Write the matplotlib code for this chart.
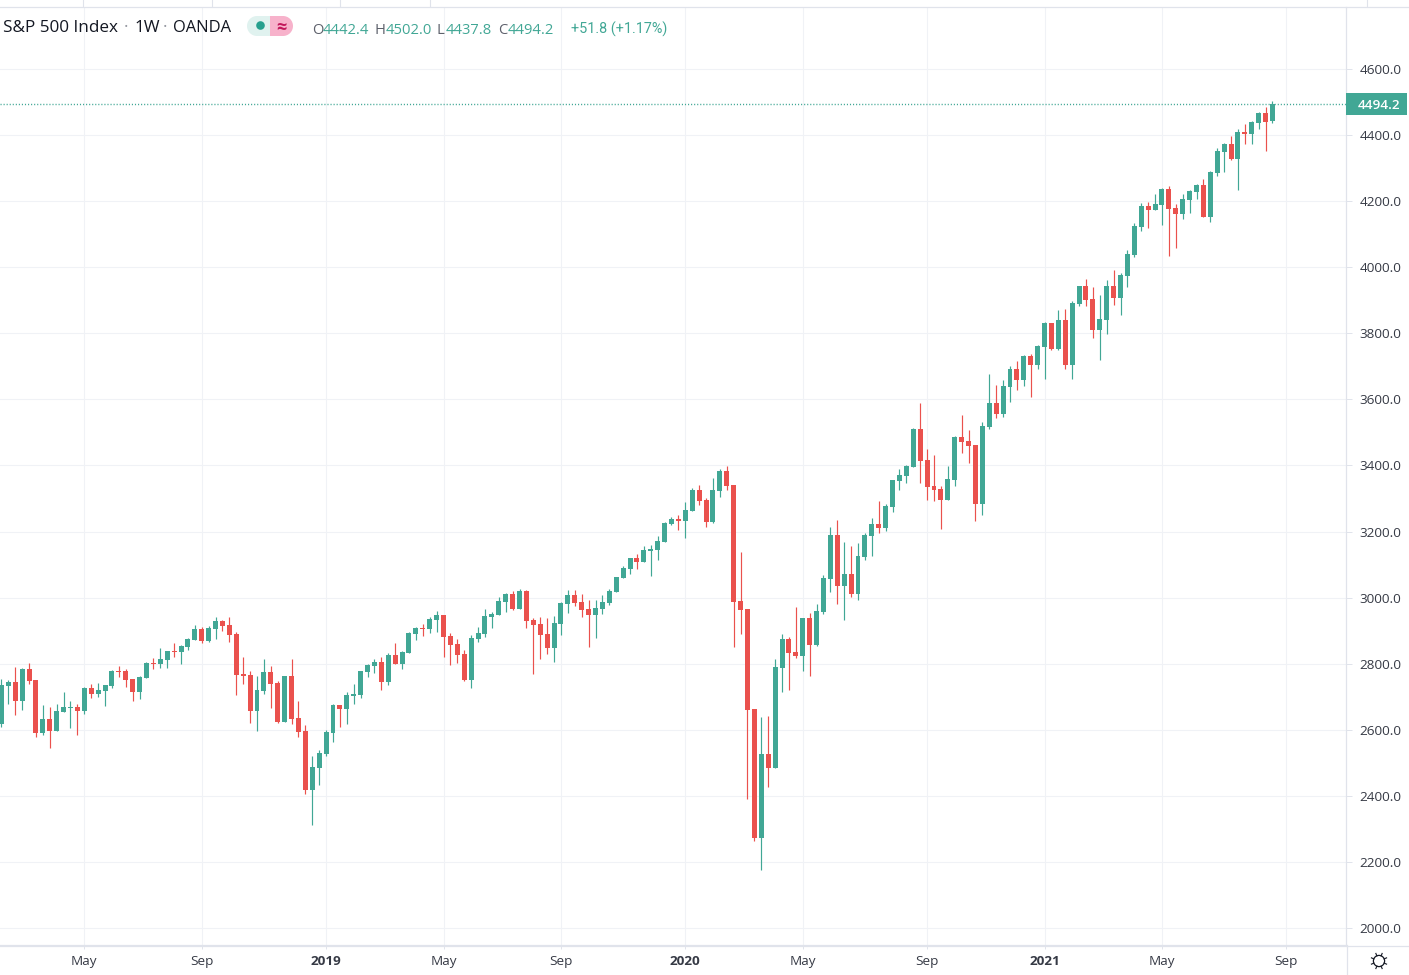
import numpy as np
import matplotlib
matplotlib.use("Agg")
import matplotlib.pyplot as plt
from matplotlib.patches import Circle, Rectangle

plt.rcParams["font.family"] = ["Open Sans", "DejaVu Sans"]

# weekly candles, oldest first
opens = [
    2618, 2733, 2745, 2687, 2784, 2751, 2590, 2633, 2597, 2654,
    2666, 2669, 2657, 2727, 2709, 2718, 2733, 2778, 2778, 2754,
    2715, 2757, 2802, 2799, 2811, 2839, 2836, 2851, 2872, 2905,
    2869, 2905, 2929, 2917, 2890, 2769, 2766, 2657, 2718, 2775,
    2742, 2624, 2763, 2636, 2597, 2418, 2485, 2527, 2590, 2675,
    2663, 2702, 2705, 2775, 2793, 2805, 2745, 2827, 2799, 2833,
    2890, 2908, 2905, 2932, 2948, 2884, 2860, 2830, 2751, 2875,
    2890, 2941, 2948, 2987, 3011, 2966, 3020, 2932, 2920, 2890,
    2848, 2920, 2981, 3008, 2987, 2966, 2948, 2966, 2984, 3017,
    3060, 3087, 3120, 3108, 3141, 3144, 3168, 3223, 3238, 3232,
    3262, 3326, 3296, 3229, 3323, 3383, 3341, 2990, 2966, 2663,
    2273, 2527, 2485, 2787, 2875, 2836, 2823, 2938, 2857, 2957,
    3057, 3190, 3035, 3072, 3011, 3123, 3187, 3223, 3211, 3274,
    3353, 3368, 3395, 3510, 3417, 3338, 3329, 3296, 3356, 3486,
    3474, 3462, 3283, 3517, 3589, 3556, 3638, 3692, 3659, 3732,
    3704, 3759, 3831, 3753, 3840, 3704, 3889, 3943, 3904, 3810,
    3840, 3943, 3907, 3974, 4037, 4122, 4185, 4173, 4188, 4237,
    4179, 4161, 4204, 4228, 4249, 4152, 4285, 4349, 4373, 4328,
    4409, 4403, 4437, 4467, 4442.4,
]
highs = [
    2754, 2751, 2790, 2787, 2802, 2751, 2675, 2669, 2678, 2715,
    2687, 2678, 2730, 2739, 2742, 2736, 2781, 2793, 2784, 2754,
    2763, 2805, 2817, 2848, 2839, 2863, 2857, 2878, 2917, 2911,
    2914, 2942, 2932, 2942, 2896, 2820, 2778, 2763, 2814, 2793,
    2748, 2763, 2814, 2687, 2615, 2521, 2539, 2600, 2678, 2675,
    2715, 2739, 2778, 2799, 2814, 2820, 2833, 2863, 2839, 2896,
    2911, 2920, 2942, 2960, 2948, 2893, 2875, 2842, 2887, 2911,
    2966, 2957, 3002, 3014, 3020, 3026, 3023, 2938, 2941, 2938,
    2945, 2987, 3023, 3023, 3011, 2993, 2993, 3008, 3026, 3063,
    3096, 3120, 3132, 3156, 3159, 3187, 3229, 3245, 3250, 3290,
    3332, 3341, 3302, 3362, 3389, 3398, 3341, 3138, 2966, 2663,
    2639, 2642, 2814, 2890, 2881, 2972, 2938, 2954, 2981, 3069,
    3214, 3235, 3168, 3156, 3165, 3196, 3241, 3293, 3284, 3356,
    3389, 3402, 3514, 3589, 3450, 3432, 3338, 3399, 3489, 3553,
    3507, 3462, 3532, 3677, 3644, 3659, 3701, 3716, 3735, 3738,
    3765, 3834, 3831, 3871, 3874, 3898, 3943, 3965, 3940, 3916,
    3962, 3992, 3983, 4052, 4134, 4194, 4197, 4222, 4240, 4246,
    4191, 4222, 4234, 4252, 4267, 4291, 4361, 4376, 4397, 4418,
    4434, 4443, 4470, 4485, 4502.0,
]
lows = [
    2610, 2678, 2645, 2660, 2739, 2578, 2584, 2545, 2597, 2654,
    2606, 2584, 2648, 2696, 2699, 2672, 2727, 2760, 2730, 2687,
    2693, 2757, 2784, 2787, 2787, 2820, 2799, 2842, 2872, 2863,
    2866, 2875, 2899, 2866, 2705, 2739, 2621, 2597, 2709, 2666,
    2621, 2624, 2618, 2578, 2406, 2312, 2433, 2521, 2563, 2609,
    2618, 2678, 2696, 2760, 2772, 2721, 2736, 2799, 2784, 2833,
    2872, 2884, 2893, 2896, 2820, 2796, 2802, 2748, 2727, 2866,
    2881, 2908, 2948, 2957, 2963, 2966, 2908, 2769, 2814, 2830,
    2805, 2887, 2954, 2975, 2941, 2851, 2878, 2951, 2978, 3017,
    3060, 3072, 3087, 3108, 3066, 3114, 3168, 3220, 3205, 3181,
    3262, 3280, 3214, 3226, 3305, 3326, 2851, 2890, 2391, 2264,
    2176, 2427, 2485, 2715, 2721, 2817, 2778, 2763, 2854, 2951,
    3017, 2981, 2932, 3002, 2993, 3114, 3126, 3196, 3202, 3259,
    3326, 3347, 3395, 3347, 3296, 3293, 3208, 3296, 3338, 3438,
    3408, 3232, 3250, 3511, 3544, 3547, 3592, 3629, 3641, 3607,
    3692, 3662, 3750, 3750, 3692, 3662, 3883, 3883, 3786, 3719,
    3798, 3886, 3856, 3940, 4031, 4110, 4119, 4173, 4128, 4034,
    4058, 4146, 4164, 4207, 4152, 4137, 4276, 4288, 4325, 4234,
    4373, 4373, 4418, 4352, 4437.8,
]
closes = [
    2736, 2745, 2687, 2784, 2748, 2590, 2633, 2597, 2657, 2669,
    2669, 2657, 2727, 2709, 2721, 2736, 2778, 2775, 2751, 2715,
    2760, 2802, 2799, 2814, 2839, 2836, 2854, 2875, 2905, 2869,
    2908, 2929, 2914, 2887, 2766, 2763, 2657, 2721, 2775, 2739,
    2624, 2763, 2633, 2593, 2418, 2488, 2530, 2593, 2675, 2663,
    2705, 2709, 2778, 2796, 2805, 2745, 2827, 2799, 2836, 2893,
    2908, 2905, 2935, 2948, 2881, 2857, 2827, 2751, 2878, 2893,
    2945, 2951, 2990, 3011, 2966, 3020, 2929, 2917, 2887, 2848,
    2923, 2984, 3008, 2984, 2963, 2948, 2969, 2987, 3020, 3063,
    3090, 3120, 3108, 3144, 3147, 3171, 3226, 3238, 3232, 3265,
    3326, 3293, 3229, 3326, 3383, 3338, 2987, 2963, 2660, 2273,
    2527, 2485, 2790, 2875, 2833, 2823, 2938, 2857, 2960, 3060,
    3190, 3035, 3072, 3011, 3126, 3190, 3223, 3211, 3277, 3356,
    3371, 3399, 3510, 3414, 3335, 3326, 3296, 3359, 3486, 3471,
    3459, 3283, 3520, 3589, 3556, 3641, 3692, 3659, 3732, 3704,
    3762, 3831, 3753, 3840, 3704, 3892, 3943, 3901, 3810, 3843,
    3943, 3907, 3977, 4040, 4125, 4185, 4173, 4191, 4237, 4176,
    4161, 4207, 4231, 4249, 4152, 4288, 4352, 4373, 4328, 4409,
    4403, 4440, 4467, 4440, 4494.2,
]

time_ticks = [12, 29, 47, 64, 81, 99, 116, 134, 151, 168, 186]
time_labels = ["May", "Sep", "2019", "May", "Sep", "2020", "May", "Sep", "2021", "May", "Sep"]
price_ticks = [2000, 2200, 2400, 2600, 2800, 3000, 3200, 3400, 3600, 3800, 4000, 4200, 4400, 4600]

GREEN = "#41a795"
RED = "#ea514d"
GRID = "#f0f2f6"
LINE = "#e0e3eb"
TEXT = "#363a45"

W, H = 1409, 975
fig = plt.figure(figsize=(W / 100, H / 100), dpi=100, facecolor="white")
ax = fig.add_axes([0, (H - 945) / H, 1346 / W, (945 - 7) / H])
ax.set_xlim(-0.203, 194.64)
ax.set_ylim(1948.8, 4787.6)

o = np.array(opens, dtype=float)
h = np.array(highs, dtype=float)
l = np.array(lows, dtype=float)
c = np.array(closes, dtype=float)
x = np.arange(len(o))
colors = [GREEN if cl >= op else RED for op, cl in zip(o, c)]

ax.vlines(x, l, h, colors=colors, linewidth=0.85, zorder=3)
ax.bar(x, np.abs(c - o), bottom=np.minimum(o, c), width=0.72, color=colors, linewidth=0, zorder=4)

# grid + axes
ax.set_axisbelow(True)
ax.grid(True, color=GRID, linewidth=0.8)
ax.yaxis.tick_right()
ax.set_yticks(price_ticks)
ax.set_yticklabels([f"{p:.1f}" for p in price_ticks], fontsize=9.7, color=TEXT)
ax.set_xticks(time_ticks)
ax.set_xticklabels(time_labels, fontsize=9.7, color=TEXT)
for lab in ax.get_xticklabels():
    if lab.get_text().isdigit():
        lab.set_fontweight("bold")
ax.tick_params(axis="y", length=4, width=0.7, color=LINE, pad=5.5)
ax.tick_params(axis="x", length=3, width=0.7, color=LINE, pad=4.5)
for side in ["top", "left"]:
    ax.spines[side].set_visible(False)
for side in ["right", "bottom"]:
    ax.spines[side].set_color(LINE)
    ax.spines[side].set_linewidth(0.9)

# last price line + tag
ax.axhline(c[-1], color=GREEN, linewidth=1.0, linestyle=(0, (0.8, 1.4)), zorder=2)
ty = ax.get_yaxis_transform()
ax.add_patch(Rectangle((1.0, c[-1] - 32), 61 / 1346, 64, transform=ty, color=GREEN, clip_on=False, linewidth=0, zorder=5))
ax.text(1.0 + 33 / 1346, c[-1], f"{c[-1]:.1f}", transform=ty, color="white", fontsize=9.7,
        fontweight="semibold", ha="center", va="center_baseline", zorder=6)

# screen chrome in pixel coordinates
over = fig.add_axes([0, 0, 1, 1], facecolor="none")
over.set_xlim(0, W)
over.set_ylim(H, 0)
over.axis("off")
over.plot([0, W], [6.5, 6.5], color=LINE, linewidth=0.9)
over.plot([0, W], [945.5, 945.5], color=LINE, linewidth=0.9)
over.plot([1346.5, 1346.5], [945, H], color=LINE, linewidth=0.9)
for px in [83, 212, 340, 430, 1367]:
    over.plot([px, px], [0, 6], color=LINE, linewidth=0.8)

# legend row
over.text(3, 26, "S&P 500 Index", fontsize=12.3, color="#131722", va="center_baseline")
over.text(126, 26, "·", fontsize=12.3, color="#9598a1", va="center_baseline", ha="center")
over.text(134, 26, "1W", fontsize=12.3, color="#131722", va="center_baseline")
over.text(165, 26, "·", fontsize=12.3, color="#9598a1", va="center_baseline", ha="center")
over.text(173, 26, "OANDA", fontsize=11.9, color="#131722", va="center_baseline")

over.add_patch(Circle((257, 26), 10, color="#e0f2ef", linewidth=0))
over.add_patch(Circle((283, 26), 10, color="#f7b2cb", linewidth=0))
over.add_patch(Rectangle((270, 16), 13, 20, color="#f7b2cb", linewidth=0))
over.add_patch(Rectangle((257, 16), 13, 20, color="#e0f2ef", linewidth=0))
over.add_patch(Circle((260.5, 25.5), 4.3, color="#26a08e", linewidth=0))
over.text(281, 26, "≈", fontsize=13, color="#c2185b", ha="center", va="center_baseline", fontweight="bold")

legend_items = [(312, "O", "#5d606b"), (323, "4442.4", GREEN), (375, "H", "#5d606b"), (386, "4502.0", GREEN),
                (437, "L", "#5d606b"), (446, "4437.8", GREEN), (498, "C", "#5d606b"), (508, "4494.2", GREEN)]
for px, s, col in legend_items:
    over.text(px, 28, s, fontsize=10.6, color=col, va="center_baseline")
over.text(571, 28, "+51.8 (+1.17%)", fontsize=10.4, color=GREEN, va="center_baseline", family="Roboto")

# settings gear
over.add_patch(Circle((1379, 961), 5.6, fill=False, edgecolor="#131722", linewidth=0.9))
for a in np.deg2rad(np.arange(0, 360, 45) + 22.5):
    over.plot([1379 + 5.6 * np.cos(a), 1379 + 8.2 * np.cos(a)],
              [961 + 5.6 * np.sin(a), 961 + 8.2 * np.sin(a)], color="#131722", linewidth=0.8)

fig.savefig("out.png", dpi=100)
